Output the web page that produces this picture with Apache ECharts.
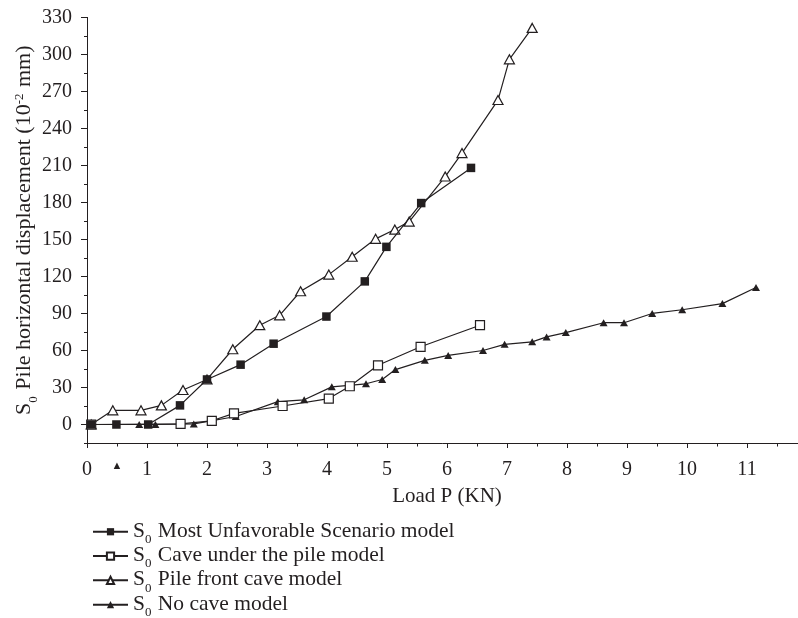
<!DOCTYPE html>
<html>
<head>
<meta charset="utf-8">
<title>Pile horizontal displacement vs load</title>
<script src="https://cdn.jsdelivr.net/npm/echarts@6/dist/echarts.min.js"></script>
<style>
  html, body { margin: 0; padding: 0; background: #fff; }
  #chart { width: 798px; height: 618px; }
</style>
</head>
<body>
<div id="chart"></div>
<script>
// legend names (the "S0" prefix is added by the formatter)
const seriesNames = [
  'Most Unfavorable Scenario model',
  'Cave under the pile model',
  'Pile front cave model',
  'No cave model'
]

// Load P (KN) / displacement (10^-2 mm)
const worstX = [0.07, 0.49, 1.02, 1.55, 2.0, 2.56, 3.11, 3.99, 4.63, 4.99, 5.57, 6.4]
const worstY = [0, 0, 0, 15.5, 36.5, 48.5, 65.5, 87.5, 116, 144, 179.5, 208]

const underX = [0.07, 1.56, 2.08, 2.45, 3.26, 4.03, 4.38, 4.85, 5.56, 6.55]
const underY = [0, 0.5, 3, 9, 15, 21, 31, 48, 63, 80.5]

const frontX = [0.07, 0.43, 0.9, 1.24, 1.6, 2.0, 2.43, 2.88, 3.21, 3.56, 4.03, 4.42, 4.81, 5.13, 5.37, 5.97, 6.25, 6.85, 7.04, 7.42]
const frontY = [0, 11.5, 11.5, 15.5, 28, 36.5, 61, 80.5, 88.5, 108, 121.5, 136, 150.5, 158, 164.5, 201, 220, 263, 296, 321.5]

const noneX = [0.07, 0.87, 1.14, 1.78, 2.48, 3.18, 3.62, 4.08, 4.65, 4.92, 5.14, 5.63, 6.02, 6.6, 6.96, 7.42, 7.66, 7.98, 8.61, 8.95, 9.42, 9.92, 10.59, 11.15]
const noneY = [0, 0, 0, 0.5, 6.5, 18.5, 20, 30.5, 33, 36.5, 44.5, 52, 56, 60, 65, 67, 71, 74.5, 82.5, 82.5, 90, 93, 98, 111]

// tick labels
const xLabels = [0, 0.5, 1, 2, 3, 4, 5, 6, 7, 8, 9, 10, 11]
const yLabels = [0, 30, 60, 90, 120, 150, 180, 210, 240, 270, 300, 330]

const INK = '#231f20'
const FONT = 'Liberation Serif'

const chart = echarts.init(document.getElementById('chart'))

function pairs(xs, ys) {
  return xs.map((x, i) => [x, ys[i]])
}

function lineSeries(name, xs, ys, symbol, size, filled, z) {
  return {
    name: name,
    type: 'line',
    data: pairs(xs, ys),
    symbol: symbol,
    symbolSize: size,
    showAllSymbol: true,
    z: z,
    lineStyle: { color: INK, width: 1.2 },
    itemStyle: {
      color: filled ? INK : '#fff',
      borderColor: INK,
      borderWidth: filled ? 0 : 1.2
    },
    emphasis: { disabled: true },
    animation: false
  }
}

// S with subscript 0, and the 10^-2 superscript
function subRich(size) {
  return {
    s: { fontFamily: FONT, fontSize: size, color: INK, lineHeight: size + 2, verticalAlign: 'top' },
    sub: { fontFamily: FONT, fontSize: 13, color: INK, lineHeight: 13, padding: [Math.round(size * 0.62), 1, 0, 0], verticalAlign: 'top' },
    sup: { fontFamily: FONT, fontSize: 13, color: INK, lineHeight: 13, padding: [0, 1, 0, 0], verticalAlign: 'top' }
  }
}

const option = {
  backgroundColor: '#fff',
  animation: false,
  grid: { left: 87, right: -9, top: 17.4, bottom: 175, outerBoundsMode: 'none', containLabel: false },
  xAxis: {
    type: 'value',
    min: 0,
    max: 12,
    interval: 1,
    name: 'Load P (KN)',
    nameLocation: 'middle',
    nameGap: 43,
    nameMoveOverlap: false,
    nameTextStyle: { fontFamily: FONT, fontSize: 21, color: INK },
    axisLine: { onZero: false, lineStyle: { color: INK, width: 1 } },
    axisTick: { inside: false, length: 5, lineStyle: { color: INK } },
    minorTick: { show: true, splitNumber: 2, length: 3.5, lineStyle: { color: INK } },
    splitLine: { show: false },
    axisLabel: {
      customValues: xLabels,
      margin: 17,
      fontFamily: FONT,
      fontSize: 20,
      color: INK,
      formatter: v => (v === 0.5 ? '{tri|▲}' : String(v)),
      rich: { tri: { fontSize: 11, color: INK, padding: [1, 0, 0, 0] } }
    }
  },
  yAxis: [
    {
      type: 'value',
      min: -15,
      max: 330,
      interval: 15,
      name: '{s|S}{sub|0}{s| Pile horizontal displacement (10}{sup|-2}{s| mm)}',
      nameLocation: 'middle',
      nameRotate: 90,
      nameGap: 50,
      nameMoveOverlap: false,
      nameTextStyle: { rich: subRich(22) },
      axisLine: { onZero: false, lineStyle: { color: INK, width: 1 } },
      axisTick: { customValues: yLabels, length: 6, lineStyle: { color: INK } },
      splitLine: { show: false },
      axisLabel: {
        customValues: yLabels,
        margin: 15,
        fontFamily: FONT,
        fontSize: 20,
        color: INK
      }
    },
    {
      // short ticks every 15
      type: 'value',
      position: 'left',
      min: -15,
      max: 330,
      interval: 15,
      axisLine: { show: false },
      axisTick: { show: true, length: 3, lineStyle: { color: INK } },
      axisLabel: { show: false },
      splitLine: { show: false }
    }
  ],
  legend: {
    orient: 'vertical',
    left: 87,
    top: 515,
    height: 150,
    itemWidth: 35,
    itemHeight: 9,
    itemGap: -1.7,
    selectedMode: false,
    data: seriesNames,
    formatter: name => '{s|S}{sub|0}{s| ' + name + '}',
    textStyle: { rich: subRich(21.5) }
  },
  series: [
    lineSeries(seriesNames[2], frontX, frontY, 'triangle', [10, 9], false, 2),
    lineSeries(seriesNames[3], noneX, noneY, 'triangle', [8, 7], true, 3),
    lineSeries(seriesNames[1], underX, underY, 'rect', 9, false, 4),
    lineSeries(seriesNames[0], worstX, worstY, 'rect', 8.5, true, 5)
  ]
}

chart.setOption(option)
</script>
</body>
</html>
